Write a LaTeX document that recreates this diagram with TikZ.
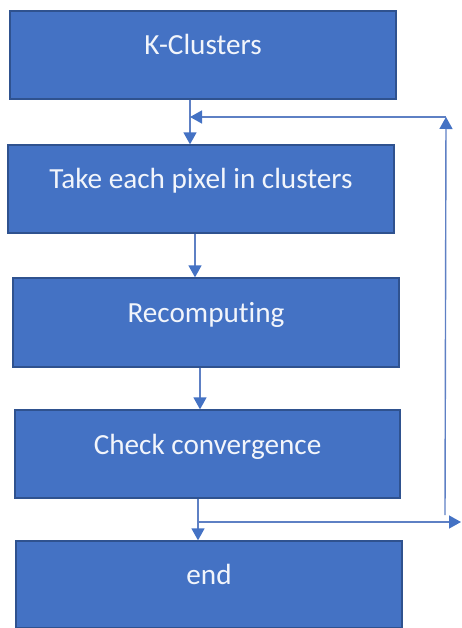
\documentclass[tikz,border=0pt]{standalone}
\usepackage{fontspec}
\setmainfont{Carlito}[Ligatures=NoCommon]
\usetikzlibrary{arrows.meta}
\definecolor{boxfill}{HTML}{4472C4}
\definecolor{boxedge}{HTML}{2F528F}
\definecolor{linkcol}{HTML}{5E80C4}
\definecolor{labelcol}{HTML}{F2F5FB}
\tikzset{
  stepbox/.style={draw=boxedge, line width=1.3pt, fill=boxfill, text=labelcol,
    minimum width=386pt, minimum height=88pt, inner sep=0pt,
    text height=16pt, text depth=16pt,
    font=\fontsize{29.2}{35}\selectfont},
  link/.style={draw=linkcol, line width=1.4pt,
    -{Triangle[width=13pt,length=12pt,color=boxfill,fill=boxfill]}}
}
\begin{document}
\begin{tikzpicture}[x=1pt,y=-1pt]
  \useasboundingbox (0,0) rectangle (461,628);
  % process steps
  \node[stepbox] (b1) at (203,55) {K-Clusters};
  \node[stepbox] (b2) at (201,189) {Take each pixel in clusters};
  \node[stepbox, minimum height=89pt] (b3) at (206,322.5) {Recomputing};
  \node[stepbox, minimum width=385pt] (b4) at (207.5,454) {Check convergence};
  \node[stepbox, minimum height=87pt] (b5) at (209,584.5) {end};
  % columns of the downward links
  \coordinate (c1) at (190,0);
  \coordinate (c2) at (195,0);
  \coordinate (c3) at (200,0);
  \coordinate (c4) at (198,0);
  % loop back and exit points
  \coordinate (loopbot) at (445,515);
  \coordinate (looptop) at (446,117);
  \coordinate (merge) at (190,117);
  \coordinate (split) at (198,522);
  \coordinate (exit) at (461,522);
  % links
  \draw[link] (b1.south -| c1) -- (b2.north -| c1);
  \draw[link] (b2.south -| c2) -- (b3.north -| c2);
  \draw[link] (b3.south -| c3) -- (b4.north -| c3);
  \draw[link] (b4.south -| c4) -- (b5.north -| c4);
  \draw[link] (loopbot) -- (looptop);
  \draw[link] (looptop) -- (merge);
  \draw[link] (split) -- (exit);
\end{tikzpicture}
\end{document}
